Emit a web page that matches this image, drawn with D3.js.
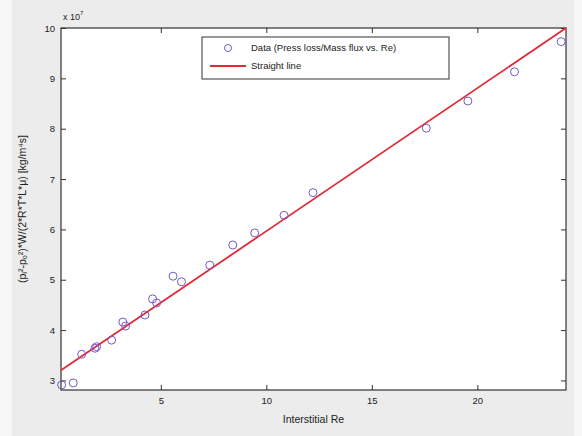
<!DOCTYPE html>
<html>
<head>
<meta charset="utf-8">
<script src="https://cdn.jsdelivr.net/npm/d3@7"></script>
<style>
  html, body { margin: 0; padding: 0; background: #f6f6f6; }
  svg { display: block; font-family: "Liberation Sans", Arial, sans-serif; }
</style>
</head>
<body>
<svg id="chart" width="582" height="436"></svg>
<script>
// Interstitial Reynolds number vs. normalised pressure loss (units of 1e7)
const reValues = [0.30, 0.85, 1.25, 1.88, 1.96, 2.67, 3.20, 3.33, 4.25, 4.61, 4.80,
                  5.58, 5.98, 7.32, 8.41, 9.45, 10.84, 12.21, 17.58, 19.55, 21.76, 23.97];
const lossValues = [2.91, 2.95, 3.52, 3.64, 3.67, 3.80, 4.16, 4.08, 4.30, 4.62, 4.54,
                    5.07, 4.96, 5.29, 5.69, 5.93, 6.28, 6.73, 8.01, 8.55, 9.13, 9.73];
// Straight-line fit, drawn between its two end points
const fitRe = [0.27, 24.2];
const fitLoss = [3.20, 10.0];
const xTicks = [5, 10, 15, 20];
const yTicks = [3, 4, 5, 6, 7, 8, 9, 10];
const legendLabels = ["Data (Press loss/Mass flux vs. Re)", "Straight line"];

const svg = d3.select("#chart");
const W = 582, H = 436;
const plot = { left: 61, right: 566, top: 28, bottom: 390 };

// figure background panel
svg.append("rect").attr("x", 12).attr("y", 0).attr("width", 562).attr("height", H)
  .attr("fill", "#ececec");

const x = d3.scaleLinear().domain([0.27, 24.2]).range([plot.left, plot.right]);
const y = d3.scaleLinear().domain([2.81, 10.0]).range([plot.bottom, plot.top]);

// white axes area
svg.append("rect")
  .attr("x", plot.left).attr("y", plot.top)
  .attr("width", plot.right - plot.left).attr("height", plot.bottom - plot.top)
  .attr("fill", "#ffffff");

const axisColor = "#333";
const tickLen = 5;

// bottom / left axes with labels, top / right mirrored ticks only
const gx = svg.append("g").attr("transform", `translate(0,${plot.bottom})`)
  .call(d3.axisBottom(x).tickValues(xTicks).tickSizeInner(-tickLen).tickSizeOuter(0).tickPadding(7));
const gy = svg.append("g").attr("transform", `translate(${plot.left},0)`)
  .call(d3.axisLeft(y).tickValues(yTicks).tickSizeInner(-tickLen).tickSizeOuter(0).tickPadding(6));
const gxt = svg.append("g").attr("transform", `translate(0,${plot.top})`)
  .call(d3.axisTop(x).tickValues(xTicks).tickSizeInner(-tickLen).tickSizeOuter(0).tickFormat(""));
const gyr = svg.append("g").attr("transform", `translate(${plot.right},0)`)
  .call(d3.axisRight(y).tickValues(yTicks).tickSizeInner(-tickLen).tickSizeOuter(0).tickFormat(""));

[gx, gy, gxt, gyr].forEach(g => {
  g.select(".domain").remove();
  g.selectAll("line").attr("stroke", axisColor);
  g.selectAll("text").attr("fill", "#222").style("font-size", "9.5px")
    .style("font-family", "'Liberation Sans', Arial, sans-serif");
});

// axes box
svg.append("rect")
  .attr("x", plot.left).attr("y", plot.top)
  .attr("width", plot.right - plot.left).attr("height", plot.bottom - plot.top)
  .attr("fill", "none").attr("stroke", axisColor).attr("stroke-width", 1.2);

// exponent label
const expo = svg.append("text").attr("x", plot.left + 2).attr("y", plot.top - 8)
  .attr("font-size", 9).attr("fill", "#222");
expo.append("tspan").text("x 10");
expo.append("tspan").attr("dy", -5).attr("font-size", 6).text("7");

// fitted straight line
const line = d3.line().x(d => x(d[0])).y(d => y(d[1]));
svg.append("path")
  .datum(fitRe.map((r, i) => [r, fitLoss[i]]))
  .attr("d", line)
  .attr("fill", "none").attr("stroke", "#e02a35").attr("stroke-width", 1.8);

// data markers
const circleColor = "#7459c9";
svg.append("g").selectAll("circle")
  .data(reValues.map((r, i) => [r, lossValues[i]]))
  .join("circle")
  .attr("cx", d => x(d[0])).attr("cy", d => y(d[1])).attr("r", 4)
  .attr("fill", "none").attr("stroke", circleColor).attr("stroke-width", 1);

// axis titles
svg.append("text")
  .attr("x", (plot.left + plot.right) / 2).attr("y", 423)
  .attr("text-anchor", "middle").attr("font-size", 10.5).attr("fill", "#222")
  .text("Interstitial Re");

svg.append("text")
  .attr("transform", `translate(26,${(plot.top + plot.bottom) / 2}) rotate(-90)`)
  .attr("text-anchor", "middle").attr("font-size", 10.5).attr("fill", "#222")
  .text("(pᵢ²-pₒ²)*W/(2*R*T*L*μ) [kg/m⁴s]");

// legend
const lg = svg.append("g").attr("transform", "translate(202,37)");
lg.append("rect").attr("width", 247).attr("height", 42)
  .attr("fill", "#ffffff").attr("stroke", "#333").attr("stroke-width", 1);
lg.append("circle").attr("cx", 26).attr("cy", 11).attr("r", 3.5)
  .attr("fill", "none").attr("stroke", circleColor);
lg.append("line").attr("x1", 8).attr("x2", 44).attr("y1", 29).attr("y2", 29)
  .attr("stroke", "#e02a35").attr("stroke-width", 1.8);
lg.selectAll("text.lab").data(legendLabels).join("text")
  .attr("class", "lab")
  .attr("x", 49).attr("y", (d, i) => 14 + i * 18)
  .attr("font-size", 9.5).attr("fill", "#222").text(d => d);
</script>
</body>
</html>
